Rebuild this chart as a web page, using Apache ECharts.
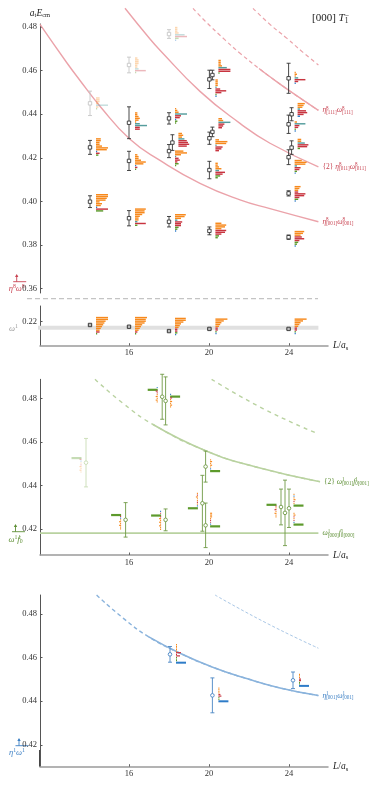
<!DOCTYPE html>
<html><head><meta charset="utf-8">
<script src="https://cdn.jsdelivr.net/npm/echarts@6/dist/echarts.min.js"></script>
<style>html,body{margin:0;padding:0;background:#fff}#c{width:378px;height:787px}</style>
</head><body><div id="c"></div>
<script>
const FONT = 'Liberation Serif';
const HC = {o:'#f7891c', t:'#559d9d', r:'#c8343f', g:'#5d9a2c', b:'#2e7cc8'};

// ---------- tick labels ----------
const xTicks = [16, 20, 24];
const yTicks1 = [0.36, 0.38, 0.40, 0.42, 0.44, 0.46, 0.48];
const yTicks1b = [0.22];
const yTicks2 = [0.42, 0.44, 0.46, 0.48];
const yTicks3 = [0.42, 0.44, 0.46, 0.48];

// ---------- panel 1 (eta8 omega8) : [L, E, err, faded] ----------
const p1Points = [
  [14.05,0.4450,0.0056,1],[14.05,0.4248,0.0032,0],[14.05,0.3999,0.0027,0],
  [16.0,0.4626,0.0036,1],[16.0,0.4361,0.0073,0],[16.0,0.4186,0.0044,0],[16.0,0.3923,0.0035,0],
  [18.0,0.4768,0.0020,1],[18.0,0.4381,0.0026,0],[18.17,0.4270,0.0036,0],[18.0,0.4231,0.0030,0],[18.0,0.3907,0.0024,0],
  [20.17,0.4580,0.0022,0],[20.02,0.4560,0.0042,0],[20.17,0.4319,0.0022,0],[20.02,0.4290,0.0028,0],[20.02,0.4144,0.0040,0],[20.02,0.3865,0.0018,0],
  [23.98,0.4565,0.0069,0],[24.13,0.4400,0.0030,0],[23.98,0.4354,0.0042,0],[24.13,0.4247,0.0031,0],[23.98,0.4203,0.0034,0],[23.98,0.4037,0.0012,0],[23.98,0.3836,0.0010,0]
];
// overlap histograms: [L, E, side, faded, overlaps (colour + tenths)]
const p1Hists = [
  [14.05,0.4449,1,1,'o3 o3 o3 o2 t10 o2 g1'],
  [14.05,0.4249,1,0,'o4 o4 o3 o3 o5 o10 o9 b1 r3 g2'],
  [14.05,0.3993,1,0,'o10 o10 o9 o8 o3 o5 o4 b1 r10 g6'],
  [16.0,0.4624,1,1,'o2 o3 o3 o3 o2 o2 t3 r9 g1'],
  [16.0,0.4368,1,0,'o2 o2 o3 o4 o3 o1 t4 t10 r4 r4'],
  [16.0,0.4180,1,0,'o2 o3 o3 o5 o9 o7 b1 r2 g1'],
  [16.0,0.3927,1,0,'o9 o8 o8 o6 o4 o3 o3 t2 r9 g2'],
  [18.0,0.4768,1,1,'o2 o2 o2 o3 t8 r10 g3 b1'],
  [18.0,0.4392,1,0,'o1 o2 o3 t10 r5 r4 b1 g2 g1'],
  [18.17,0.4282,1,0,'o3 o4 o3 t5 r7 r8 r9 r7'],
  [18.0,0.4197,1,0,'o7 o10 o5 t1 r3 r4 r2 g3 g1'],
  [18.0,0.3901,1,0,'o9 o8 o5 t2 r6 r5 r5 g3 g2 b1'],
  [20.17,0.4617,1,0,'o2 o2 o2 o3 t7 r10 r10 g1'],
  [20.02,0.4519,1,0,'o2 o2 o2 o2 t1 r4 r9 r5 g1 b1'],
  [20.17,0.4358,1,0,'o3 o4 t10 r5 r4 r3'],
  [20.02,0.4257,1,0,'o3 o10 o9 t1 r6 r5 r3'],
  [20.02,0.4141,1,0,'o2 o2 o3 o5 t3 r8 r6 g4 g2'],
  [20.02,0.3866,1,0,'o5 o9 o8 o5 r9 r8 r5 g3 g2'],
  [23.98,0.4566,1,0,'o1 o2 o1 t3 r9 r3 b1'],
  [24.13,0.4419,1,0,'o6 o5 o4 t2 r7 r8 r5 b2'],
  [23.98,0.4343,1,0,'o2 t9 r4 r3 g1 b1'],
  [24.13,0.4263,1,0,'o3 o3 t6 r9 r8 g2'],
  [23.98,0.4158,1,0,'o6 o10 o9 t2 r5 r4 g2 b1'],
  [23.98,0.4034,1,0,'o5 o4 o3 r3 r9 r8 r4 g3 b1'],
  [23.98,0.3828,1,0,'o8 o7 o5 r6 r8 r4 g3 g2 b1']
];
// non-interacting curves, panel 1 (C: dashed above L=22.5, solid below)
const curveA_L = [11.55,12.9,13.55,14.55,16.05,17.55,19.55,21.55,23.05,25.47];
const curveA_E = [0.4812,0.4635,0.4555,0.4437,0.4285,0.4188,0.4083,0.4007,0.3967,0.3907];
const curveB_L = [15.8,17.05,17.55,19.55,21.55,23.05,25.47];
const curveB_E = [0.4886,0.4745,0.4694,0.4505,0.4358,0.4267,0.4159];
const curveC_L = [19.2,19.8,20.8,21.55,22.5,23.05,24.05,25.47];
const curveC_E = [0.4886,0.4828,0.4741,0.4680,0.4610,0.4572,0.4506,0.4418];
const curveC_solidFrom = 22.5;
const curveD_L = [22.2,23.05,23.9,24.7,25.47];
const curveD_E = [0.4886,0.4812,0.4748,0.4684,0.4626];

// ---------- panel 1 lower (omega1) ----------
const p1bPoints = [[14.05,0.2185,0.0003,0],[16.0,0.2177,0.0003,0],[18.0,0.2157,0.0003,0],[20.02,0.2167,0.0003,0],[23.98,0.2167,0.0003,0]];
const p1bHists = [
  [14.05,0.2181,1,0,'o10 o10 o8 o7 o6 o5 o4 o3 r3 g1'],
  [16.0,0.2181,1,0,'o10 o9 o9 o8 o6 o5 o4 o3 r2 g1'],
  [18.0,0.2177,1,0,'o9 o9 o7 o5 o4 o3 r2 r2 g2 b1'],
  [20.02,0.2178,1,0,'o10 o7 o5 o4 o3 r2 r2 g1 b1'],
  [23.98,0.2178,1,0,'o10 o7 o5 o4 o3 r2 r2 g1 b1']
];
const omega1_L = [10.6, 25.47];
const omega1_E = [0.2172, 0.2172];

// ---------- panel 2 (omega1 f0_1) ----------
const p2Points = [
  [13.85,0.4505,0.0111,1],[15.83,0.4243,0.0079,0],[17.66,0.4807,0.0103,0],[17.83,0.4788,0.0110,0],
  [17.83,0.4243,0.0050,0],[19.83,0.4487,0.0071,0],[19.67,0.4319,0.0128,0],[19.83,0.4218,0.0102,0],
  [23.6,0.4302,0.0082,0],[23.8,0.4275,0.0150,0],[24.0,0.4296,0.0088,0]
];
const p2Hists = [
  [13.85,0.4494,-1,1,'g10 r2 b1 o1 r1 o2 o1 o2 o1'],
  [15.83,0.4233,-1,0,'g10 r1 b1 o1 o2 o1 o2 o1 o1'],
  [17.83,0.4239,-1,0,'b1 r1 g10 r1 o2 o1 o2 o1 o2 o1 o1'],
  [17.66,0.4815,-1,0,'b1 g10 r2 r1 o1 o2 o1 o2 o1'],
  [17.83,0.4788,1,0,'b1 g10 r2 o1 o2 o1 o2 o1'],
  [19.83,0.4492,1,0,'o1 o2 o1 o2 o1 b1 g10'],
  [19.67,0.4330,-1,0,'o1 r1 o2 o1 o1 r1 o1 b1 g10'],
  [19.83,0.4243,1,0,'o2 o2 o2 o1 r1 r1 b1 g10'],
  [23.6,0.4284,-1,0,'g10 r1 o1 r2 o1 o2 o1 o1'],
  [24.0,0.4334,1,0,'o1 b1 o1 o2 r1 o1 g10'],
  [24.0,0.4247,1,0,'o1 o2 r1 o1 r1 b1 g10']
];
const p2Curve_L = [14.3,15.7,17.2,19.83,22.4,25.55];
const p2Curve_E = [0.4887,0.4777,0.4680,0.4560,0.4484,0.4418];
const p2Curve_solidFrom = 17.2;
const p2Upper_L = [20.13,22.72,25.38];
const p2Upper_E = [0.4887,0.4752,0.4640];
const p2Thr_L = [11.55,25.47];
const p2Thr_E = [0.4182,0.4182];

// ---------- panel 3 (eta1 omega1) ----------
const p3Points = [[18.05,0.4615,0.0036,0],[20.17,0.4427,0.0080,0],[24.2,0.4496,0.0038,0]];
const p3Hists = [
  [18.05,0.4618,1,0,'o1 o1 o1 o1 o1 r5 r1 r4 g1 g1 g1 b10'],
  [20.17,0.4430,1,0,'o1 o1 o1 o1 r2 r3 g1 g1 b10'],
  [24.2,0.4497,1,0,'o1 o1 o1 r2 r2 g1 g1 b10']
];
const p3Curve_L = [14.38,15.72,16.97,18.55,20.22,21.88,23.55,25.47];
const p3Curve_E = [0.4887,0.4780,0.4696,0.4620,0.4555,0.4504,0.4461,0.4426];
const p3Curve_solidFrom = 16.97;
const p3Upper_L = [20.3,22.88,25.47];
const p3Upper_E = [0.4887,0.4758,0.4643];

// ---------- helpers ----------
const zip = (a, b) => a.map((v, i) => [v, b[i]]);
const from = (L, E, l0) => zip(L, E).filter(d => d[0] >= l0);
function rich(color, size) {
  const lh = Math.round(size * 1.2 * 10) / 10;
  const s = Math.round(size * 0.68 * 10) / 10, slh = Math.round(size * 0.72 * 10) / 10;
  const base = {fontFamily: FONT, color: color, fill: color};
  return {
    r: Object.assign({}, base, {fontSize: size, lineHeight: lh}),
    i: Object.assign({}, base, {fontSize: size, fontStyle: 'italic', lineHeight: lh}),
    sp: Object.assign({}, base, {fontSize: s, lineHeight: slh, verticalAlign: 'top', width: 0.01}),
    su: Object.assign({}, base, {fontSize: s, lineHeight: slh, verticalAlign: 'top'}),
    sb: Object.assign({}, base, {fontSize: s, lineHeight: slh, verticalAlign: 'bottom'})
  };
}
function ptItem(list, opt) {
  return function (params, api) {
    const d = list[params.dataIndex];
    const c = api.coord([d[0], d[1]]);
    const t = api.coord([d[0], d[1] + d[2]]);
    const b = api.coord([d[0], d[1] - d[2]]);
    const col = d[3] ? opt.faded : opt.color;
    const lw = 0.9, cap = 2;
    const ch = [
      {type:'line', shape:{x1:c[0],y1:t[1],x2:c[0],y2:b[1]}, style:{stroke:col,lineWidth:lw}},
      {type:'line', shape:{x1:c[0]-cap,y1:t[1],x2:c[0]+cap,y2:t[1]}, style:{stroke:col,lineWidth:lw}},
      {type:'line', shape:{x1:c[0]-cap,y1:b[1],x2:c[0]+cap,y2:b[1]}, style:{stroke:col,lineWidth:lw}}
    ];
    if (opt.sym === 'rect') ch.push({type:'rect', shape:{x:c[0]-1.7,y:c[1]-1.7,width:3.4,height:3.4}, style:{fill:opt.fill||'#fff',stroke:col,lineWidth:lw}});
    else ch.push({type:'circle', shape:{cx:c[0],cy:c[1],r:1.8}, style:{fill:'#fff',stroke:col,lineWidth:lw}});
    return {type:'group', children: ch};
  };
}
function histItem(list, opt) {
  return function (params, api) {
    const h = list[params.dataIndex];
    const p = api.coord([h[0], h[1]]);
    const dir = h[2], faded = h[3];
    const bars = h[4].split(' ').map(s => [s[0], +s.slice(1)]);
    const n = bars.length;
    const top = p[1] - n * opt.step / 2;
    const x0 = p[0] + dir * opt.gap;
    return {type:'group', children: bars.map((b, i) => {
      const len = Math.max(0.9, b[1] / 10 * opt.max);
      const th = b[1] >= 8 && opt.thMain ? opt.thMain : opt.th;
      return {type:'rect', shape:{x: dir > 0 ? x0 : x0 - len, y: top + i * opt.step, width: len, height: th},
              style:{fill: HC[b[0]], opacity: faded ? 0.35 : 1}};
    })};
  };
}
function line(gi, data, color, width, dash, extra, z) {
  return Object.assign({type:'line', xAxisIndex:gi, yAxisIndex:gi, data: data, symbol:'none', smooth:0.5,
    clip:false, silent:true, z: z || 1, lineStyle:{color, width, type: dash || 'solid'}}, extra || {});
}
function endLab(text, color) {
  return {endLabel:{show:true, formatter:text, distance:4, fontFamily:FONT, fontSize:7.5, color, rich: rich(color, 7.5)}};
}
function xAx(gi, show) {
  return {type:'value', gridIndex:gi, min:11.55, max:25.95, show,
    axisLine:{show:true, onZero:false, lineStyle:{color:'#9a9a9a', width:1.5}},
    axisTick:{show:true, inside:true, length:2.5, customValues:xTicks, lineStyle:{color:'#666'}},
    axisLabel:{customValues:xTicks, fontFamily:FONT, fontSize:8.5, color:'#333', margin:3},
    splitLine:{show:false},
    name:'{i|L}{r|/}{i|a}{sb|s}', nameLocation:'end', nameGap:5,
    nameTextStyle:{fontFamily:FONT, fontSize:9.5, color:'#222', rich: rich('#222', 9.5)}};
}
function yAx(gi, min, max, ticks, extra) {
  return Object.assign({type:'value', gridIndex:gi, min, max,
    axisLine:{show:true, lineStyle:{color:'#555', width:1}},
    axisTick:{show:true, inside:true, length:2.5, customValues:ticks, lineStyle:{color:'#555'}},
    axisLabel:{customValues:ticks, formatter:v => v.toFixed(2), fontFamily:FONT, fontSize:8.5, color:'#333', margin:3},
    splitLine:{show:false}}, extra || {});
}
function custom(gi, list, fn, z) {
  return {type:'custom', xAxisIndex:gi, yAxisIndex:gi, data:list.map(d => [d[0], d[1]]), renderItem:fn, silent:true, z:z, clip:false};
}
function marker(x, yBar, color, text, tx, ty) {
  return {type:'group', silent:true, children:[
    {type:'line', shape:{x1:x, y1:yBar-6.5, x2:x, y2:yBar}, style:{stroke:color, lineWidth:0.9}},
    {type:'polygon', shape:{points:[[x-1.7,yBar-4.6],[x,yBar-7.6],[x+1.7,yBar-4.6]]}, style:{fill:color}},
    {type:'line', shape:{x1:x-3.5, y1:yBar, x2:x+9.5, y2:yBar}, style:{stroke:color, lineWidth:0.9}},
    {type:'text', x:tx, y:ty, style:{text, rich: rich(color, 8.5), align:'center', verticalAlign:'middle', fontFamily:FONT, fontSize:8.5, fill:color}}
  ]};
}

const PINK = '#eba3aa', RED = '#c94452';
const LGREEN = '#b9d2a0', GREEN = '#5e8f35', PGREEN = '#6f9a45';
const LBLUE = '#8ab3dc', BLUE = '#3b7fc4', PBLUE = '#4a86c4';

const chart = echarts.init(document.getElementById('c'), null, {renderer:'canvas', width:378, height:787});
chart.setOption({
  animation:false,
  backgroundColor:'#fff',
  grid:[
    {left:40, top:24, width:288, height:269},
    {left:40, top:306, width:288, height:39.7},
    {left:40, top:379.3, width:288, height:175.7},
    {left:40, top:595, width:288, height:171.7}
  ],
  xAxis:[xAx(0,false), xAx(1,true), xAx(2,true), xAx(3,true)],
  yAxis:[
    yAx(0, 0.358, 0.4814, yTicks1, {name:'{i|a}{sb|t}{i|E}{sb|cm}', nameLocation:'end', nameGap:5,
      nameTextStyle:{fontFamily:FONT, fontSize:9.5, color:'#222', rich: rich('#222', 9.5)}}),
    yAx(1, 0.209, 0.2272, yTicks1b),
    yAx(2, 0.4082, 0.4887, yTicks2),
    yAx(3, 0.41, 0.4887, yTicks3)
  ],
  graphic:[
    {type:'line', silent:true, shape:{x1:27, y1:298.7, x2:318, y2:298.7}, style:{stroke:'#c4c4c4', lineWidth:1.3, lineDash:[5,3]}},
    marker(16.7, 281.7, RED, '{i|η}{su|8}{i|ω}{su|8}', 16.7, 288.5),
    {type:'text', x:13.5, y:328.5, silent:true, style:{text:'{i|ω}{su|1}', rich: rich('#9a9a9a', 8.5), align:'center', verticalAlign:'middle'}},
    marker(15.5, 531.7, GREEN, '{i|ω}{su|1}{i|f}{sp|1}{sb|0}', 15.5, 539.5),
    marker(19, 745.7, BLUE, '{i|η}{su|1}{i|ω}{su|1}', 17, 752.5),
    {type:'text', x:312, y:18.5, silent:true, style:{text:'{r|[000] }{i|T}{sp|−}{sb|1}', rich: rich('#222', 11), align:'left', verticalAlign:'middle'}},
    {type:'line', silent:true, shape:{x1:40, y1:750, x2:40, y2:766.7}, style:{stroke:'#333', lineWidth:1.8}}
  ],
  series:[
    // panel 1 curves
    line(0, zip(curveA_L, curveA_E), PINK, 1.4, 'solid', endLab('{i|η}{sp|8}{sb|[001]}{i|ω}{sp|8}{sb|[001]}', RED)),
    line(0, zip(curveB_L, curveB_E), PINK, 1.4, 'solid', endLab('{2} {i|η}{sp|8}{sb|[011]}{i|ω}{sp|8}{sb|[011]}', RED)),
    line(0, zip(curveC_L, curveC_E), PINK, 1.2, [4,3], null, 1),
    line(0, from(curveC_L, curveC_E, curveC_solidFrom), PINK, 1.4, 'solid', endLab('{i|η}{sp|8}{sb|[111]}{i|ω}{sp|8}{sb|[111]}', RED), 2),
    line(0, zip(curveD_L, curveD_E), PINK, 1.2, [4,3]),
    custom(0, p1Hists, histItem(p1Hists, {step:1.8, th:1.45, gap:6, max:12}), 3),
    custom(0, p1Points, ptItem(p1Points, {color:'#333', faded:'#c6c6c6', sym:'rect'}), 4),
    // panel 1 lower
    line(1, zip(omega1_L, omega1_E), '#e0e0e0', 4, 'solid', {smooth:false}),
    custom(1, p1bHists, histItem(p1bHists, {step:1.8, th:1.45, gap:6, max:12}), 3),
    custom(1, p1bPoints, ptItem(p1bPoints, {color:'#333', faded:'#c6c6c6', sym:'rect', fill:'#bbb'}), 4),
    // panel 2
    line(2, zip(p2Curve_L, p2Curve_E), LGREEN, 1.4, [4,4], null, 1),
    line(2, from(p2Curve_L, p2Curve_E, p2Curve_solidFrom), LGREEN, 1.6, 'solid', endLab('{2} {i|ω}{sp|1}{sb|[001]}{i|f}{sp|1}{sb|0[001]}', GREEN), 2),
    line(2, zip(p2Upper_L, p2Upper_E), LGREEN, 1.4, [4,4]),
    line(2, zip(p2Thr_L, p2Thr_E), LGREEN, 1.6, 'solid', Object.assign({smooth:false}, endLab('{i|ω}{sp|1}{sb|[000]}{i|f}{sp|1}{sb|0[000]}', GREEN))),
    custom(2, p2Hists, histItem(p2Hists, {step:1.8, th:1.2, thMain:2.2, gap:4.5, max:10}), 3),
    custom(2, p2Points, ptItem(p2Points, {color:PGREEN, faded:'#c9dcb5', sym:'circle'}), 4),
    // panel 3
    line(3, zip(p3Curve_L, p3Curve_E), LBLUE, 1.4, [4,3], null, 1),
    line(3, from(p3Curve_L, p3Curve_E, p3Curve_solidFrom), LBLUE, 1.6, 'solid', endLab('{i|η}{sp|1}{sb|[001]}{i|ω}{sp|1}{sb|[001]}', BLUE), 2),
    line(3, zip(p3Upper_L, p3Upper_E), '#a9c7e6', 1.0, [3,2]),
    custom(3, p3Hists, histItem(p3Hists, {step:1.6, th:1.2, thMain:2.0, gap:6, max:10}), 3),
    custom(3, p3Points, ptItem(p3Points, {color:PBLUE, faded:'#c0d6ee', sym:'circle'}), 4)
  ]
});
</script></body></html>
